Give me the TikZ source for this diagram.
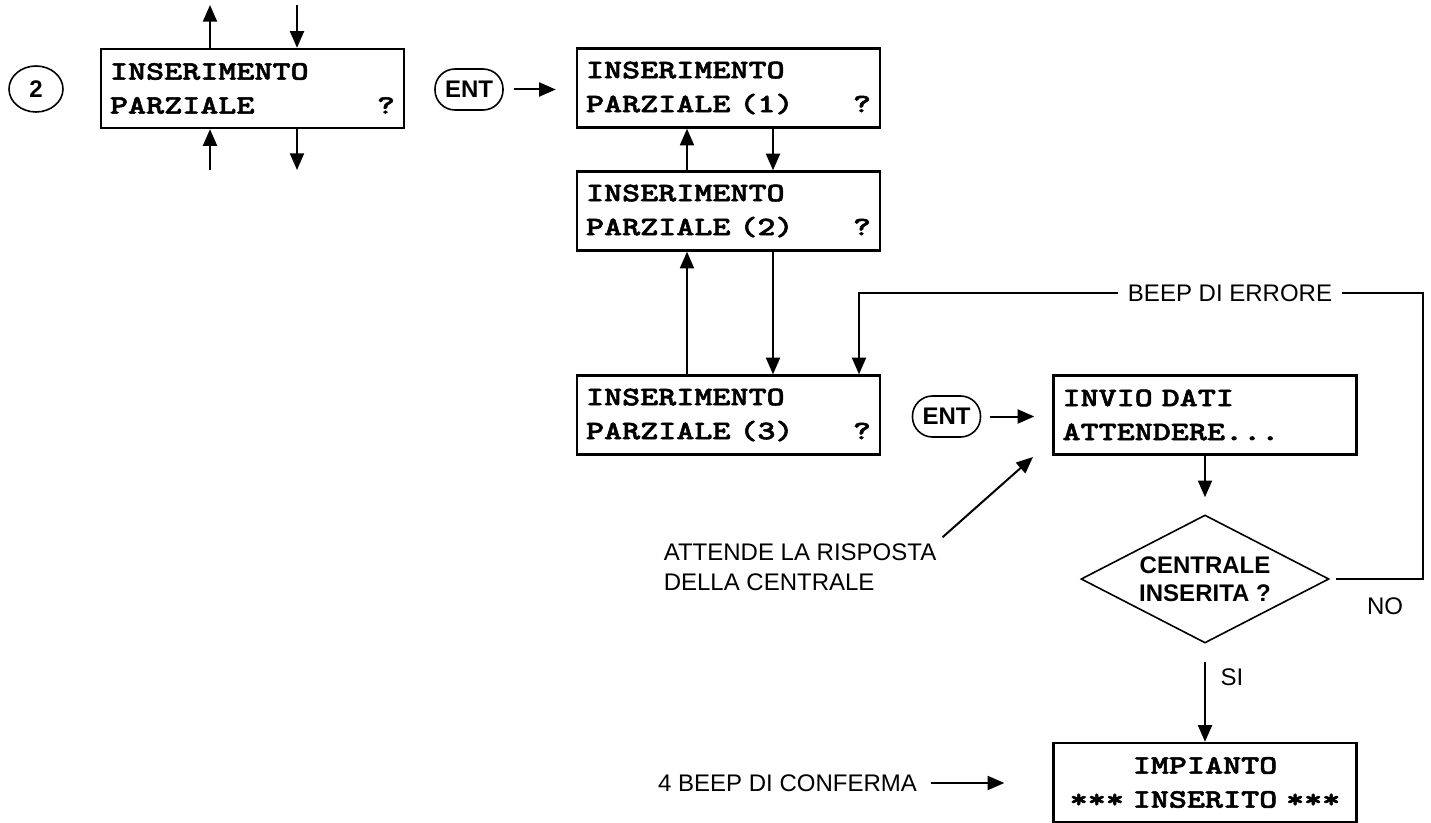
\documentclass[tikz,border=0pt]{standalone}
\usepackage{fontspec}
\setmainfont{Liberation Sans}
\setsansfont{Liberation Sans}
\newfontfamily\lcdfont{lmmonolt10-bold.otf}[FakeStretch=1.29,FakeBold=2]
\usetikzlibrary{arrows.meta,shapes.geometric}
\newcommand{\lcdrow}[2]{\makebox[\hsize][l]{#1\hfill#2}}

\begin{document}
\begin{tikzpicture}[x=0.75pt,y=0.75pt,yscale=-1,xscale=1,
  lcd/.style={draw, line width=1.8pt, minimum width=227.25pt, minimum height=59.25pt, inner xsep=6.75pt, inner ysep=0pt, text width=213.75pt, align=left, font={\lcdfont\fontsize{20}{25.5}\selectfont\spaceskip=\fontcharwd\font`0\relax}},
  key/.style={draw, line width=1.2pt, rounded corners=15pt, minimum width=51pt, minimum height=30.75pt, inner sep=0pt, font=\sffamily\bfseries\fontsize{18}{20}\selectfont},
  arr/.style={line width=1.5pt, -{Triangle[length=12.5pt,width=10.5pt]}},
  lbl/.style={font=\sffamily\fontsize{18}{22.5}\selectfont, inner sep=0pt}]
\useasboundingbox (0,0) rectangle (1431,823);

%Shape: Ellipse [key 2]
\node [ellipse, draw, line width=1.2pt, minimum width=40.5pt, minimum height=34.5pt, inner sep=0pt, font=\sffamily\bfseries\fontsize{18}{20}\selectfont] (two) at (36,89) {2};
%Shape: Rectangle [menu]
\node [lcd] (menu) at (252.5,88.5) {INSERIMENTO\\\lcdrow{PARZIALE}{?}};
%Shape: Rounded Rect [ENT]
\node [key] (ent1) at (469,89.5) {ENT};
%Shape: Rectangle [partial 1..3]
\node [lcd] (p1) at (728.5,88) {INSERIMENTO\\\lcdrow{PARZIALE (1)}{?}};
\node [lcd] (p2) at (728.5,211) {INSERIMENTO\\\lcdrow{PARZIALE (2)}{?}};
\node [lcd] (p3) at (728.5,415) {INSERIMENTO\\\lcdrow{PARZIALE (3)}{?}};
%Shape: Rounded Rect [ENT]
\node [key] (ent2) at (946.5,416.5) {ENT};
%Shape: Rectangle [sending]
\node [lcd] (invio) at (1205,415) {INVIO DATI\\ATTENDERE...};
%Shape: Diamond
\node [diamond, draw, line width=1.2pt, aspect=1.94, minimum width=186pt, minimum height=96pt, inner sep=0pt, align=center, font=\sffamily\bfseries\fontsize{18}{21}\selectfont] (chk) at (1205,579) {CENTRALE\\INSERITA ?};
%Shape: Rectangle [done]
\node [lcd, align=center] (done) at (1205,782.5) {IMPIANTO\\{}*** INSERITO ***};

% Text Node
\node [lbl, fill=white, inner xsep=7.5pt] (err) at (1230,293) {BEEP DI ERRORE};
% Text Node
\node [lbl] (no) at (1385,606) {NO};
% Text Node
\node [lbl, align=left, anchor=west, inner sep=4.5pt] (wait) at (657.5,567) {ATTENDE LA RISPOSTA\\DELLA CENTRALE};
% Text Node
\node [lbl] (conf) at (787.5,783) {4 BEEP DI CONFERMA};

\coordinate (a1) at (210,5);
\coordinate (a2) at (297,5);
\coordinate (a3) at (210,170);
\coordinate (a4) at (297,170);
\coordinate (upx) at (687,0);
\coordinate (dnx) at (773,0);
\coordinate (ne) at (1423,293);
\coordinate (nw) at (859,293);
\coordinate (tip) at (1033,457);

%Straight Lines
\draw [arr] (a1 |- menu.north) -- (a1);
\draw [arr] (a2) -- (a2 |- menu.north);
\draw [arr] (a3) -- (a3 |- menu.south);
\draw [arr] (a4 |- menu.south) -- (a4);
\draw [arr, shorten <=7.5pt, shorten >=15pt] (ent1.east) -- (ent1.east -| p1.west);
\draw [arr] (upx |- p2.north) -- (upx |- p1.south);
\draw [arr] (dnx |- p1.south) -- (dnx |- p2.north);
\draw [arr] (upx |- p3.north) -- (upx |- p2.south);
\draw [arr] (dnx |- p2.south) -- (dnx |- p3.north);
\draw [arr, shorten <=6.75pt, shorten >=13.5pt] (ent2.east) -- (ent2.east -| invio.west);
\draw [arr] (wait.north east) -- (tip);
\draw [arr, shorten >=12.75pt] (invio.south) -- (chk.north);
\draw [arr, shorten <=13.5pt] (chk.south) -- (done.north) node [lbl, pos=0.34, right=11pt] {SI};
\draw [arr, shorten <=10.5pt, shorten >=36pt] (conf.east) -- (conf.east -| done.west);
%Error loop
\draw [line width=1.5pt, shorten <=4.5pt] (chk.east) -| (ne) -- (err.east);
\draw [arr] (err.west) -- (nw) -- (nw |- p3.north);

\end{tikzpicture}
\end{document}
